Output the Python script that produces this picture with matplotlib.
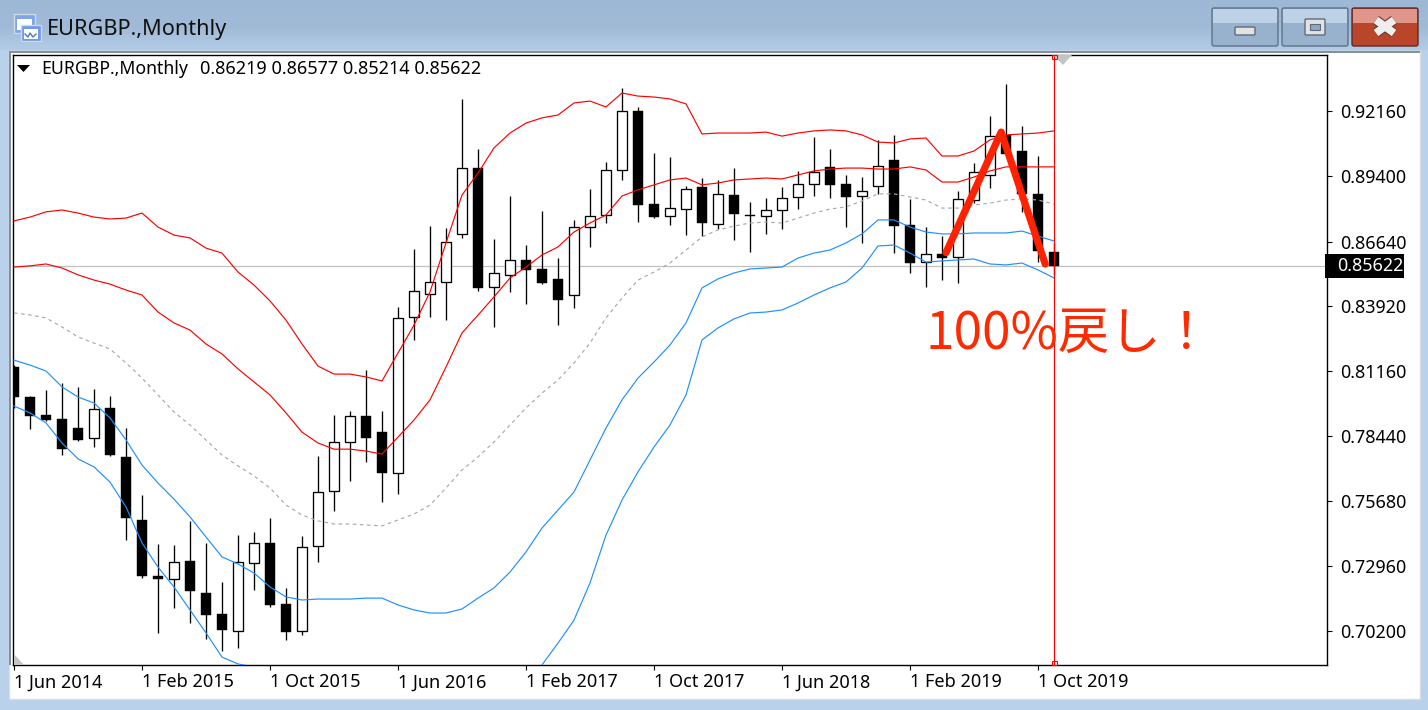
import matplotlib
matplotlib.use('Agg')
import matplotlib.pyplot as plt
import numpy as np
from matplotlib.patches import Rectangle, Polygon, FancyBboxPatch

plt.rcParams['font.family'] = ['Noto Sans', 'DejaVu Sans']

# monthly candles, Jun 2014 to Nov 2019
open_ = [.81350, .80083, .79323, .79154, .78774, .78351, .79618, .77549, .74888, .72523, .72397,
         .73157, .71806, .70919, .70201, .73072, .73917, .71341, .70201, .73790, .76113, .78182,
         .79280, .78604, .76873, .83461, .84432, .84939, .86966, .89753, .84728, .85235, .85868,
         .85488, .85066, .84390, .87262, .87768, .89669, .92160, .88233, .87726, .88022, .88951,
         .87388, .88613, .87768, .87726, .87980, .88529, .89077, .89796, .89077, .88571, .88993,
         .90091, .87346, .85784, .86122, .85995, .88402, .89458, .91147, .90471, .88655, .86219]
close = [.80083, .79280, .79111, .77887, .78267, .79576, .77633, .74973, .72523, .72397, .73115,
         .71890, .70877, .70243, .73115, .73917, .71299, .70159, .73748, .76071, .78182, .79280,
         .78351, .76873, .83418, .84559, .84939, .86628, .89753, .84686, .85319, .85868, .85446,
         .84897, .84179, .87262, .87726, .89669, .92160, .88191, .87684, .88064, .88866, .87431,
         .88655, .87811, .87726, .87980, .88486, .89077, .89584, .89035, .88529, .88782, .89838,
         .87304, .85741, .86122, .85953, .88444, .89584, .91105, .90345, .88655, .86248, .85622]
high = [.81434, .80125, .80378, .80674, .80505, .80421, .80125, .78774, .75944, .73875, .73833,
        .74846, .73917, .72270, .74255, .74382, .74973, .72017, .74213, .77591, .79323, .79491,
        .81223, .79491, .83883, .86333, .87304, .87220, .92667, .90556, .86755, .88571, .86502,
        .87937, .85953, .87557, .88866, .90007, .93132, .92329, .90387, .90218, .88993, .89331,
        .89247, .89753, .88318, .88486, .88951, .89627, .91063, .90556, .89458, .89373, .90936,
        .91147, .88444, .87262, .86882, .88782, .89965, .91949, .93301, .91527, .90260, .86577]
low = [.79618, .78731, .79069, .77633, .78224, .77971, .77591, .74044, .72439, .70116, .71172,
       .70538, .69863, .69356, .69483, .71932, .71215, .69820, .70032, .73115, .75268, .76535,
       .77338, .75648, .75986, .82490, .83461, .83334, .86797, .84559, .83039, .84517, .84010,
       .84855, .83123, .83841, .86417, .87431, .89247, .87473, .87642, .87346, .86924, .86882,
       .87177, .86713, .86206, .86966, .87177, .88022, .88571, .88486, .87262, .86586, .88655,
       .86164, .85319, .84728, .85024, .84897, .88275, .88908, .90345, .87895, .85784, .85214]

# bollinger bands
red_outer = [.8752, .8768, .8790, .8798, .8785, .8768, .8760, .8764, .8785, .8726, .8692, .8680,
             .8637, .8616, .8536, .8481, .8414, .8333, .8232, .8139, .8105, .8105, .8093, .8076,
             .8194, .8312, .8452, .8659, .8861, .8954, .9060, .9123, .9165, .9187, .9199, .9250,
             .9258, .9233, .9292, .9279, .9275, .9267, .9246, .9119, .9123, .9123, .9123, .9127,
             .9110, .9123, .9132, .9136, .9132, .9115, .9085, .9081, .9098, .9102, .9026, .9026,
             .9047, .9094, .9115, .9119, .9123, .9132]
red_inner = [.8557, .8562, .8570, .8553, .8524, .8502, .8485, .8460, .8439, .8367, .8321, .8291,
             .8232, .8190, .8127, .8072, .8017, .7941, .7860, .7814, .7788, .7788, .7780, .7767,
             .7839, .7911, .7996, .8135, .8279, .8354, .8431, .8511, .8557, .8608, .8642, .8705,
             .8743, .8777, .8857, .8883, .8904, .8925, .8933, .8904, .8912, .8925, .8929, .8933,
             .8929, .8946, .8963, .8971, .8975, .8975, .8971, .8971, .8980, .8967, .8916, .8916,
             .8937, .8963, .8980, .8980, .8980, .8980]
middle = [.8363, .8355, .8342, .8304, .8262, .8236, .8211, .8152, .8088, .8017, .7945, .7890,
          .7827, .7763, .7717, .7675, .7624, .7552, .7510, .7485, .7472, .7472, .7468, .7464,
          .7489, .7514, .7552, .7624, .7700, .7755, .7818, .7890, .7962, .8025, .8080, .8152,
          .8236, .8342, .8426, .8502, .8536, .8574, .8629, .8684, .8714, .8730, .8743, .8747,
          .8743, .8764, .8785, .8802, .8811, .8836, .8866, .8866, .8853, .8840, .8806, .8806,
          .8819, .8827, .8840, .8845, .8840, .8823]
blue_inner = [.8164, .8143, .8118, .8051, .8008, .7983, .7920, .7827, .7721, .7645, .7577, .7502,
              .7417, .7333, .7303, .7265, .7206, .7164, .7151, .7155, .7155, .7155, .7159, .7159,
              .7130, .7109, .7096, .7096, .7113, .7159, .7202, .7269, .7354, .7455, .7531, .7607,
              .7742, .7877, .7996, .8088, .8156, .8228, .8321, .8469, .8507, .8532, .8549, .8553,
              .8557, .8595, .8616, .8629, .8659, .8697, .8756, .8756, .8726, .8705, .8697, .8697,
              .8701, .8701, .8701, .8709, .8688, .8667]
blue_outer = [.7970, .7941, .7899, .7814, .7747, .7713, .7649, .7544, .7392, .7290, .7206, .7109,
              .7012, .6910, .6881, .6868, .6834, .6771, .6788, .6830, .6838, .6838, .6843, .6851,
              .6779, .6716, .6653, .6589, .6539, .6556, .6577, .6657, .6758, .6877, .6969, .7066,
              .7223, .7425, .7573, .7692, .7797, .7890, .8017, .8249, .8300, .8338, .8363, .8367,
              .8376, .8405, .8439, .8469, .8494, .8553, .8646, .8650, .8616, .8578, .8583, .8587,
              .8591, .8570, .8566, .8574, .8545, .8511]

y_ticks = [0.92160, 0.89400, 0.86640, 0.83920, 0.81160, 0.78440, 0.75680, 0.72960, 0.70200]
x_tick_pos = [0, 8, 16, 24, 32, 40, 48, 56, 64]
x_tick_labels = ['1 Jun 2014', '1 Feb 2015', '1 Oct 2015', '1 Jun 2016', '1 Feb 2017',
                 '1 Oct 2017', '1 Jun 2018', '1 Feb 2019', '1 Oct 2019']
last_price = 0.85622
# hand drawn swing line on the chart
swing_x = [58.25, 61.7, 64.45]
swing_y = [0.8618, 0.9127, 0.8570]

W, H = 1428, 710
fig = plt.figure(figsize=(W / 100, H / 100), dpi=100)


def pixel_axes(z):
    a = fig.add_axes([0, 0, 1, 1], zorder=z)
    a.set_xlim(0, W)
    a.set_ylim(H, 0)
    a.axis('off')
    a.patch.set_alpha(0)
    return a


# window frame
bg = pixel_axes(0)
grad = np.linspace(0, 1, 60).reshape(-1, 1)
bg.imshow(grad, extent=[0, W, 56, 0], aspect='auto', zorder=0,
          cmap=matplotlib.colors.LinearSegmentedColormap.from_list('t', ['#9db8d5', '#a1bbd7', '#b8d0ea']))
bg.set_xlim(0, W)
bg.set_ylim(H, 0)
bg.add_patch(Rectangle((0, 50), W, H - 50, fc='#b9d1ea', ec='none', zorder=1))
bg.add_patch(Rectangle((9, 51), 1411, 648, fc='white', ec='#d9dde2', lw=1, zorder=2))
bg.add_patch(Rectangle((9, 51), 1411, 2, fc='#8b8f94', ec='none', zorder=3))
bg.add_patch(Rectangle((9, 51), 2, 614, fc='#8b8f94', ec='none', zorder=3))
bg.text(47, 29.5, 'EURGBP.,Monthly', fontsize=15.6, color='#101010', va='center', ha='left')

# title bar icon
bg.add_patch(Rectangle((14, 14), 21, 19, fc='#7fa6e8', ec='#cfd9e6', lw=1, zorder=3))
bg.add_patch(Rectangle((17, 19), 15, 11, fc='white', ec='none', zorder=3))
bg.add_patch(Rectangle((21, 25), 20, 16, fc='#6f9bec', ec='#cfd9e6', lw=1, zorder=4))
bg.add_patch(Rectangle((24, 29), 14, 10, fc='white', ec='none', zorder=4))
bg.plot([25, 28, 30, 33, 36], [34, 37, 33, 37, 34], color='#4a78c8', lw=1, zorder=5)

# window buttons
for x0, top, bottom, edge in [(1212, '#bdd1e7', '#98b1cc', '#5d7189'),
                              (1282, '#bdd1e7', '#98b1cc', '#5d7189'),
                              (1352, '#e0978a', '#b9452b', '#5a2a2a')]:
    bg.add_patch(FancyBboxPatch((x0, 8), 66, 38, boxstyle='round,pad=0,rounding_size=2',
                                fc=bottom, ec=edge, lw=1, zorder=3))
    bg.add_patch(Rectangle((x0 + 1, 9), 64, 14, fc=top, ec='none', zorder=4))
bg.add_patch(FancyBboxPatch((1235, 27), 20, 8, boxstyle='round,pad=0,rounding_size=1',
                            fc='#e2e2e2', ec='#5d6b7c', lw=1, zorder=5))
bg.add_patch(FancyBboxPatch((1305, 19), 20, 16, boxstyle='round,pad=0,rounding_size=1',
                            fc='#e2e2e2', ec='#5d6b7c', lw=1, zorder=5))
bg.add_patch(Rectangle((1310, 24), 10, 6, fc='#8ea7c6', ec='#5d6b7c', lw=0.8, zorder=6))
bg.plot([1376, 1394], [20, 33], color='#6b3a30', lw=7.2, zorder=5, solid_capstyle='butt')
bg.plot([1376, 1394], [33, 20], color='#6b3a30', lw=7.2, zorder=5, solid_capstyle='butt')
bg.plot([1376, 1394], [20, 33], color='#eeeeee', lw=5.6, zorder=6, solid_capstyle='butt')
bg.plot([1376, 1394], [33, 20], color='#eeeeee', lw=5.6, zorder=6, solid_capstyle='butt')

# chart
ax = fig.add_axes([13 / W, 1 - 665 / H, 1314 / W, 610 / H], zorder=1)
ax.set_xlim(-1 / 16, 1313 / 16)
ax.set_ylim(0.68765, 0.94525)
x = np.arange(len(close))

ax.axhline(last_price, color='#c0c0c0', lw=0.9, zorder=1)
ax.vlines(x, low, high, color='black', lw=0.95, zorder=2)
for i in x:
    up = close[i] >= open_[i]
    bottom = min(open_[i], close[i])
    height = abs(close[i] - open_[i])
    if up:
        ax.bar(i, height, 0.62, bottom=bottom, facecolor='white', edgecolor='black', linewidth=0.95, zorder=3)
    else:
        ax.bar(i, height, 0.68, bottom=bottom, facecolor='black', edgecolor='black', linewidth=0.3, zorder=3)

ax.plot(x, red_outer, color='#ff0000', lw=0.85, zorder=4)
ax.plot(x, red_inner, color='#ff0000', lw=0.85, zorder=4)
ax.plot(x, middle, color='#a9a9a9', lw=0.85, ls=(0, (3, 3)), zorder=4)
ax.plot(x, blue_inner, color='#1e90ff', lw=0.85, zorder=4)
ax.plot(x, blue_outer, color='#1e90ff', lw=0.85, zorder=4)
ax.axvline(x[-1], color='#ff0000', lw=0.85, zorder=4)
ax.plot(swing_x, swing_y, color='#ff2200', lw=5.2, solid_capstyle='round', solid_joinstyle='round', zorder=5)
ax.text(57.0, 0.8275, '100%戻し！', fontsize=37, color='#ff2a00', va='center', ha='left',
        family=['Noto Sans CJK JP', 'DejaVu Sans'], zorder=6)

ax.yaxis.tick_right()
ax.set_yticks(y_ticks)
ax.set_yticklabels(['%.5f' % v for v in y_ticks], fontsize=12.9)
ax.set_xticks(x_tick_pos)
ax.set_xticklabels(x_tick_labels, fontsize=13, ha='left')
ax.tick_params(axis='both', length=3.5, width=0.8, color='black', labelcolor='black')
ax.tick_params(axis='y', pad=6)
ax.tick_params(axis='x', pad=2.5)
for s in ax.spines.values():
    s.set_linewidth(1)

# current price tag
ax.add_patch(Rectangle((0.9985, last_price - 0.0051), 0.0601, 0.0102, transform=ax.get_yaxis_transform(),
                       fc='black', ec='none', clip_on=False, zorder=7))
ax.text(1.0075, last_price, '%.5f' % last_price, transform=ax.get_yaxis_transform(), color='white',
        fontsize=12.9, va='center', ha='left', clip_on=False, zorder=8)

# chart corner markers and header line
fg = pixel_axes(2)
fg.add_patch(Polygon([(1053, 55), (1072, 55), (1063, 65)], fc='#c4c4c4', ec='none'))
fg.add_patch(Polygon([(14, 654), (14, 665), (24, 665)], fc='#c4c4c4', ec='none'))
fg.add_patch(Rectangle((1052, 55), 5, 4, fc='none', ec='#ff0000', lw=0.8))
fg.add_patch(Rectangle((1052, 661), 5, 4, fc='none', ec='#ff0000', lw=0.8))
fg.add_patch(Polygon([(17, 65), (30, 65), (23.5, 72)], fc='black', ec='none'))
fg.text(41, 69, 'EURGBP.,Monthly', fontsize=12.7, color='black', va='center', ha='left')
fg.text(200, 69, '0.86219 0.86577 0.85214 0.85622', fontsize=13, color='black', va='center', ha='left')

plt.savefig('out.png', dpi=100)
